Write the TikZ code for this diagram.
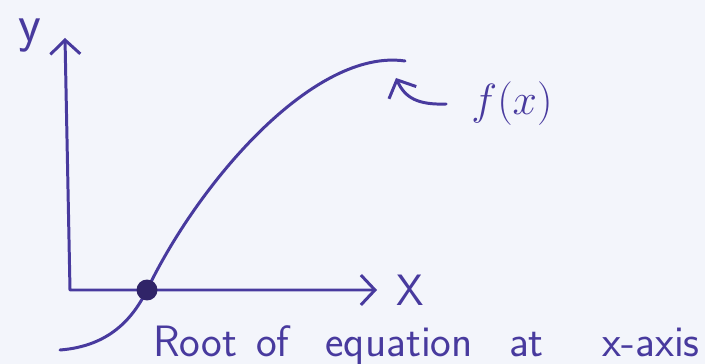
\documentclass[tikz,border=0pt]{standalone}
\usepackage{tikz}
\usepackage{xcolor}
\usetikzlibrary{arrows.meta}
\definecolor{ink}{RGB}{72,58,158}
\definecolor{inkdark}{RGB}{48,36,104}
\definecolor{paper}{RGB}{243,245,251}

\begin{document}
\begin{tikzpicture}[x=0.02cm,y=-0.02cm,
    pen/.style={draw=ink,line width=1.7pt,line cap=round,line join=round},
    barb/.tip={Straight Barb[length=8pt,width=17pt,line width=1.7pt]},
    hand/.style={text=ink,inner sep=0pt,font=\sffamily\fontsize{25}{29}\selectfont}]
    \fill[paper] (0,0) rectangle (705,364);
    \useasboundingbox (0,0) rectangle (705,364);
    \coordinate (ytip) at (65,38);
    \coordinate (origin) at (70,290);
    \coordinate (xtip) at (377,290);
    \coordinate (ftip) at (396,78);
    \draw[pen,barb-barb] (ytip) -- (origin) -- (xtip);
    \node[hand,font=\sffamily\fontsize{30}{34}\selectfont] (ylabel) at (30,36) {y};
    \node[hand] (xlabel) at (410,290) {X};
    \draw[pen] (60,350) .. controls (110,346) and (133,318) .. (147,290)
        .. controls (200,180) and (315,48) .. (405,61);
    \node[circle,fill=inkdark,inner sep=0pt,minimum size=0.42cm] (root) at (147,290) {};
    \node[hand,font=\fontsize{28}{32}\selectfont] (flabel) at (512,104) {$f(x)$};
    \draw[pen,-barb] ([xshift=-0.5cm]flabel.west) .. controls (418,105) and (405,98) .. (ftip);
    \node[hand,anchor=west] (rootlabel) at (153,345)
        {Root\hspace{0.1cm} of\hspace{0.45cm} equation\hspace{0.45cm} at\hspace{0.9cm} x-axis};
\end{tikzpicture}
\end{document}
